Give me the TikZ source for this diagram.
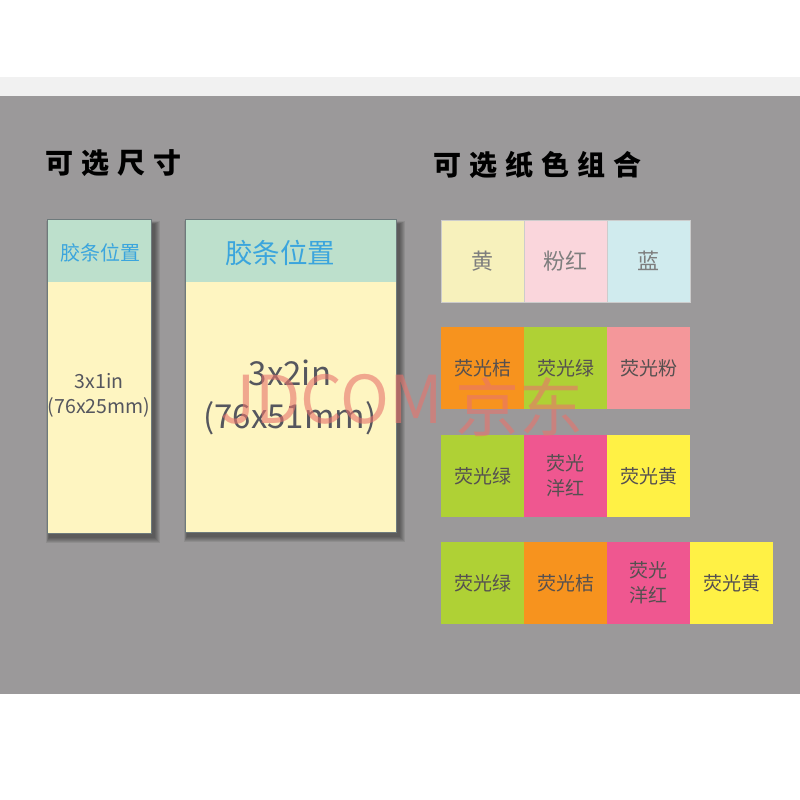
\documentclass[tikz,border=0pt]{standalone}
\usepackage{fontspec}
\setmainfont{Noto Sans CJK SC}
\newfontfamily\cjk{Noto Sans CJK SC}
\definecolor{panel}{HTML}{9B999A}
\definecolor{band}{HTML}{F1F1F1}
\definecolor{hdr}{HTML}{BDE0CC}
\definecolor{body}{HTML}{FEF5C1}
\definecolor{cardline}{HTML}{6E7A7C}
\definecolor{hdrtxt}{HTML}{3BA5DD}
\definecolor{cardtxt}{HTML}{55565E}
\definecolor{pyellow}{HTML}{F7F1BC}
\definecolor{ppink}{HTML}{FAD6DC}
\definecolor{pblue}{HTML}{D0EBEE}
\definecolor{fora}{HTML}{F7931E}
\definecolor{fgrn}{HTML}{AFD135}
\definecolor{fpnk}{HTML}{F4979A}
\definecolor{fmag}{HTML}{EF5790}
\definecolor{fyel}{HTML}{FFF145}
\definecolor{softtxt}{HTML}{7E7E7E}
\definecolor{darktxt}{HTML}{555050}
\definecolor{wm}{HTML}{E8746C}
\begin{document}
\begin{tikzpicture}[x=1pt,y=-1pt,
  box/.style={anchor=north west,inner sep=0pt,outer sep=0pt},
  cell/.style={anchor=north west,inner sep=0pt,outer sep=0pt,minimum height=82pt,minimum width=83pt,align=center},
  softcell/.style={cell,draw=black!20,line width=0.6pt,text=softtxt,font=\fontsize{22}{26}\selectfont},
  fcell/.style={cell,text=darktxt,font=\fontsize{19}{25}\selectfont},
  title/.style={anchor=west,inner sep=0pt,font=\fontsize{28}{32}\selectfont\bfseries},
  cardtext/.style={text=cardtxt,align=center,inner sep=0pt}]
\useasboundingbox (0,0) rectangle (800,800);
\fill[white] (0,0) rectangle (800,800);
\fill[band] (0,77) rectangle (800,96);
\fill[panel] (0,96) rectangle (800,694);
% titles
\node[title] (t1) at (45,163) {可\hspace{8pt}选\hspace{8pt}尺\hspace{8pt}寸};
\node[title] (t2) at (433,165) {可\hspace{8pt}选\hspace{8pt}纸\hspace{8pt}色\hspace{8pt}组\hspace{8pt}合};
% shadows
\foreach \r in {0,1,2,3,4,5}{
  \fill[black,opacity=0.08] (49-\r*0.6,224-\r*0.6) rectangle (155+\r,538+\r);
  \fill[black,opacity=0.08] (187-\r*0.6,224-\r*0.6) rectangle (400+\r,537+\r);
}
% card 1
\node[box,fill=body,minimum width=104pt,minimum height=314pt] (c1) at (47,219) {};
\node[box,fill=hdr,minimum width=104pt,minimum height=63pt] (h1) at (47,219) {};
\draw[cardline,line width=1pt] (c1.north west) rectangle (c1.south east);
\node[text=hdrtxt,font=\fontsize{20}{24}\selectfont,inner sep=0pt] (h1t) at (100,253) {胶条位置};
\node[cardtext,font=\fontsize{19.5}{25}\selectfont] (c1t) at (99,395) {3x1in\\(76x25mm)};
% card 2
\node[box,fill=body,minimum width=211pt,minimum height=313pt] (c2) at (185,219) {};
\node[box,fill=hdr,minimum width=211pt,minimum height=63pt] (h2) at (185,219) {};
\draw[cardline,line width=1pt] (c2.north west) rectangle (c2.south east);
\node[text=hdrtxt,font=\fontsize{27.5}{32}\selectfont,inner sep=0pt] (h2t) at (280,253) {胶条位置};
\node[cardtext,font=\fontsize{33}{43}\selectfont] (c2t) at (290,397) {3x2in\\(76x51mm)};
% row 1
\node[softcell,fill=pyellow] (r1a) at (441,220) {黄};
\node[softcell,fill=ppink] (r1b) at (524,220) {粉红};
\node[softcell,fill=pblue] (r1c) at (607,220) {蓝};
% row 2
\node[fcell,fill=fora] (r2a) at (441,327) {荧光桔};
\node[fcell,fill=fgrn] (r2b) at (524,327) {荧光绿};
\node[fcell,fill=fpnk] (r2c) at (607,327) {荧光粉};
% row 3
\node[fcell,fill=fgrn] (r3a) at (441,435) {荧光绿};
\node[fcell,fill=fmag] (r3b) at (524,435) {荧光\\洋红};
\node[fcell,fill=fyel] (r3c) at (607,435) {荧光黄};
% row 4
\node[fcell,fill=fgrn] (r4a) at (441,542) {荧光绿};
\node[fcell,fill=fora] (r4b) at (524,542) {荧光桔};
\node[fcell,fill=fmag] (r4c) at (607,542) {荧光\\洋红};
\node[fcell,fill=fyel] (r4d) at (690,542) {荧光黄};
% watermark
\node[text=wm,opacity=0.6,font=\fontsize{66}{66}\selectfont,inner sep=0pt,anchor=base west] (wm1) at (220,423) {JDCOM};
\node[text=wm,opacity=0.6,font=\fontsize{64}{64}\selectfont,inner sep=0pt] (wm2) at (519,407) {京东};
\end{tikzpicture}
\end{document}
